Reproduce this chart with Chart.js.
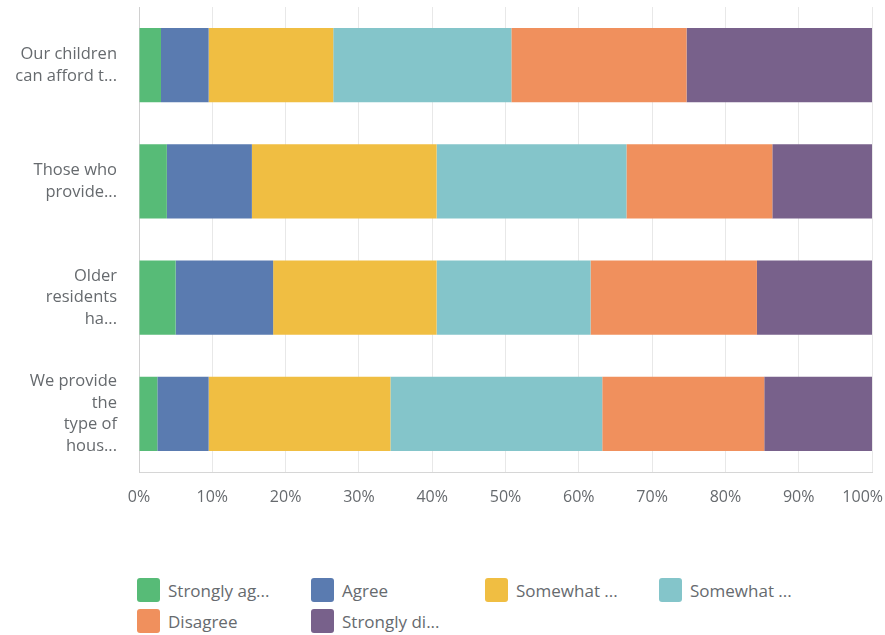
<!DOCTYPE html>
<html>
<head>
<meta charset="utf-8">
<script src="https://cdn.jsdelivr.net/npm/chart.js@4"></script>
<style>
  body { margin: 0; background: #fff; font-family: "Open Sans", sans-serif; overflow: hidden; }
  #wrap { position: relative; width: 885px; height: 520px; }
  #legend {
    position: absolute; left: 137px; top: 578px;
    display: grid; grid-template-columns: repeat(4, 174px); row-gap: 7px;
  }
  .item { display: flex; align-items: center; height: 24px; color: #666a6e; font-size: 17px; }
  .box { width: 23px; height: 24px; border-radius: 3px; margin-right: 8px; flex: none; }
</style>
</head>
<body>
<div id="wrap"><canvas id="surveyChart"></canvas></div>
<div id="legend"></div>
<script>
// Datos (porcentaje de respuestas por afirmación)
const questions = [
  ['Our children', 'can afford t...'],
  ['Those who', 'provide...'],
  ['Older', 'residents', 'ha...'],
  ['We provide', 'the', 'type of', 'hous...']
];
const answerLabels = ['Strongly ag...', 'Agree', 'Somewhat ...', 'Somewhat ...', 'Disagree', 'Strongly di...'];
const answerColors = ['#57bb77', '#5a7bb0', '#f0be42', '#84c5ca', '#f0905d', '#78618b'];

const stronglyAgree = [3.0, 3.8, 5.0, 2.5];
const agree = [6.5, 11.6, 13.3, 7.0];
const somewhatAgree = [17.0, 25.2, 22.3, 24.8];
const somewhatDisagree = [24.3, 25.9, 21.0, 28.9];
const disagree = [23.9, 19.9, 22.7, 22.1];
const stronglyDisagree = [25.3, 13.6, 15.7, 14.7];

const xTicks = [0, 10, 20, 30, 40, 50, 60, 70, 80, 90, 100];

const seriesValues = [stronglyAgree, agree, somewhatAgree, somewhatDisagree, disagree, stronglyDisagree];

// Etiquetas del eje X dibujadas a mano para que "100%" no se corte en el borde
const xLabelsPlugin = {
  id: 'xLabels',
  afterDraw(chart) {
    const scale = chart.scales.x;
    const c = chart.ctx;
    c.save();
    c.font = '16px "Open Sans"';
    c.fillStyle = '#666a6e';
    c.textAlign = 'center';
    c.textBaseline = 'middle';
    xTicks.forEach((v) => {
      const txt = v + '%';
      const w = c.measureText(txt).width;
      let x = scale.getPixelForValue(v);
      x = Math.min(x, chart.width - 2 - w / 2);
      c.fillText(txt, x, scale.top + 25);
    });
    c.restore();
  }
};

const ctx = document.getElementById('surveyChart').getContext('2d');
const chart = new Chart(ctx, {
  type: 'bar',
  data: {
    labels: questions,
    datasets: seriesValues.map((vals, i) => ({
      label: answerLabels[i],
      data: vals,
      backgroundColor: answerColors[i],
      borderWidth: 0,
      barPercentage: 0.64,
      categoryPercentage: 1
    }))
  },
  options: {
    indexAxis: 'y',
    responsive: true,
    maintainAspectRatio: false,
    animation: false,
    layout: { padding: { top: 7, right: 13, bottom: 0, left: 0 } },
    plugins: { legend: { display: false }, tooltip: { enabled: false } },
    scales: {
      x: {
        stacked: true,
        min: 0,
        max: 100,
        afterBuildTicks: (scale) => { scale.ticks = xTicks.map(v => ({ value: v })); },
        afterFit: (scale) => {
          scale.height = 48;
          scale.paddingLeft = 0;
          scale.paddingRight = 0;
        },
        grid: { color: '#e8e8e8', drawTicks: false },
        border: { color: '#d6d6d6' },
        ticks: { display: false }
      },
      y: {
        stacked: true,
        afterFit: (scale) => {
          scale.width = 139;
          scale.paddingTop = 0;
          scale.paddingBottom = 0;
        },
        grid: { display: false, drawTicks: false },
        border: { color: '#d0d0d0' },
        ticks: {
          padding: 22,
          color: '#666a6e',
          font: { family: 'Open Sans', size: 16.5, lineHeight: 1.3 }
        }
      }
    }
  },
  plugins: [xLabelsPlugin]
});

// Leyenda HTML en cuadrícula de 4 columnas
const legend = document.getElementById('legend');
chart.data.datasets.forEach((ds) => {
  const item = document.createElement('div');
  item.className = 'item';
  const box = document.createElement('span');
  box.className = 'box';
  box.style.background = ds.backgroundColor;
  const txt = document.createElement('span');
  txt.textContent = ds.label;
  item.appendChild(box);
  item.appendChild(txt);
  legend.appendChild(item);
});
</script>
</body>
</html>
